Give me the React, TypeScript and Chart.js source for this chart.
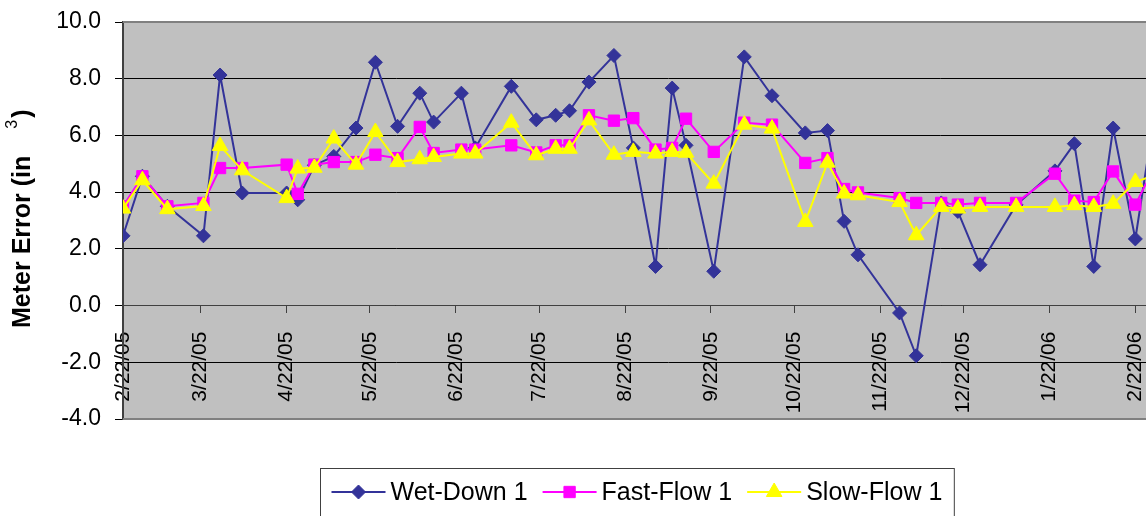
import React, { useEffect, useRef } from 'react';
import { Chart, registerables } from 'chart.js';

Chart.register(...registerables);

// ---- data ----
const seriesNames = ['Wet-Down 1', 'Fast-Flow 1', 'Slow-Flow 1'];

const dates = [
  '2/22/05', '3/1/05', '3/10/05', '3/23/05', '3/29/05', '4/6/05', '4/22/05', '4/26/05',
  '5/2/05', '5/9/05', '5/17/05', '5/24/05', '6/1/05', '6/9/05', '6/14/05', '6/24/05',
  '6/29/05', '7/12/05', '7/21/05', '7/28/05', '8/2/05', '8/9/05', '8/18/05', '8/25/05',
  '9/2/05', '9/8/05', '9/13/05', '9/23/05', '10/4/05', '10/14/05', '10/26/05', '11/3/05',
  '11/9/05', '11/14/05', '11/29/05', '12/5/05', '12/14/05', '12/20/05', '12/28/05', '1/10/06',
  '1/24/06', '1/31/06', '2/7/06', '2/14/06', '2/22/06', '3/1/06',
];

const wetDown = [
  2.46, 4.56, 3.5, 2.46, 8.13, 3.97, 3.97, 3.73,
  4.95, 5.26, 6.26, 8.58, 6.32, 7.49, 6.47, 7.49,
  5.56, 7.73, 6.55, 6.71, 6.87, 7.88, 8.82, 5.56,
  1.38, 7.67, 5.65, 1.21, 8.77, 7.4, 6.09, 6.17,
  2.97, 1.79, -0.26, -1.77, 3.62, 3.32, 1.44, 3.55,
  4.75, 5.71, 1.38, 6.26, 2.35, 6.8,
];

const fastFlow = [
  3.5, 4.56, 3.5, 3.62, 4.85, 4.85, 4.97, 3.94,
  4.97, 5.06, 5.06, 5.32, 5.2, 6.3, 5.38, 5.5,
  5.5, 5.65, 5.4, 5.65, 5.65, 6.71, 6.52, 6.61,
  5.5, 5.56, 6.59, 5.42, 6.45, 6.38, 5.03, 5.2,
  4.11, 3.99, 3.79, 3.62, 3.62, 3.56, 3.62, 3.62,
  4.65, 3.7, 3.65, 4.73, 3.56, 4.9,
];

const slowFlow = [
  3.42, 4.42, 3.4, 3.51, 5.63, 4.77, 3.79, 4.83,
  4.86, 5.89, 4.97, 6.12, 5.06, 5.16, 5.24, 5.36,
  5.36, 6.45, 5.3, 5.53, 5.53, 6.53, 5.32, 5.42,
  5.36, 5.42, 5.39, 4.3, 6.38, 6.24, 2.95, 5.04,
  3.95, 3.89, 3.65, 2.48, 3.48, 3.42, 3.48, 3.48,
  3.48, 3.54, 3.48, 3.59, 4.36, 4.6,
];

const tickLabels = [
  '2/22/05', '3/22/05', '4/22/05', '5/22/05', '6/22/05', '7/22/05', '8/22/05',
  '9/22/05', '10/22/05', '11/22/05', '12/22/05', '1/22/06', '2/22/06', '3/22/06',
];

const yMin = -4;
const yMax = 10;
const yStep = 2;

// ---- helpers ----
const FONT = '"Liberation Sans", Arial, Helvetica, sans-serif';
const COLORS = ['#333399', '#FF00FF', '#FFFF00'];
const STYLES = ['rectRot', 'rect', 'triangle'];
const RADII = [7, 8, 9];

function toUTC(s: string) {
  const [m, d, y] = s.split('/').map(Number);
  return Date.UTC(2000 + y, m - 1, d);
}
const origin = toUTC(tickLabels[0]);
function dayOf(s: string) {
  return Math.round((toUTC(s) - origin) / 86400000);
}
const tickDays = tickLabels.map(dayOf);

function drawMarker(ctx: CanvasRenderingContext2D, style: string, x: number, y: number, r: number, color: string) {
  ctx.beginPath();
  if (style === 'rectRot') {
    ctx.moveTo(x - r, y);
    ctx.lineTo(x, y - r);
    ctx.lineTo(x + r, y);
    ctx.lineTo(x, y + r);
  } else if (style === 'rect') {
    const s = r * Math.SQRT1_2;
    ctx.rect(x - s, y - s, 2 * s, 2 * s);
  } else {
    ctx.moveTo(x, y - r);
    ctx.lineTo(x + r * Math.sin(Math.PI / 3), y + r / 2);
    ctx.lineTo(x - r * Math.sin(Math.PI / 3), y + r / 2);
  }
  ctx.closePath();
  ctx.fillStyle = color;
  ctx.fill();
  ctx.strokeStyle = color;
  ctx.lineWidth = 1;
  ctx.stroke();
}

const plotBgPlugin = {
  id: 'plotBg',
  beforeDraw(chart: any) {
    const { ctx, chartArea: a } = chart;
    ctx.save();
    ctx.fillStyle = '#C0C0C0';
    ctx.fillRect(a.left, a.top, a.right - a.left, a.bottom - a.top);
    ctx.restore();
  },
  beforeDatasetsDraw(chart: any) {
    const { ctx, chartArea: a } = chart;
    ctx.save();
    ctx.strokeStyle = '#808080';
    ctx.lineWidth = 2;
    ctx.beginPath();
    ctx.moveTo(a.left, a.top);
    ctx.lineTo(a.right, a.top);
    ctx.lineTo(a.right, a.bottom);
    ctx.lineTo(a.left, a.bottom);
    ctx.stroke();
    ctx.restore();
  },
};

const yTitlePlugin = {
  id: 'yTitle',
  afterDraw(chart: any) {
    const { ctx } = chart;
    ctx.save();
    ctx.translate(23, 328);
    ctx.rotate(-Math.PI / 2);
    ctx.fillStyle = '#000';
    ctx.textBaseline = 'middle';
    ctx.textAlign = 'left';
    ctx.font = `bold 25px ${FONT}`;
    const main = 'Meter Error (in';
    ctx.fillText(main, 0, 0);
    let x = ctx.measureText(main).width + 27;
    ctx.font = `16px ${FONT}`;
    ctx.fillText('3', x, -10);
    x += ctx.measureText('3').width + 2;
    ctx.font = `bold 25px ${FONT}`;
    ctx.fillText(')', x, 0);
    ctx.restore();
  },
};

const legendPlugin = {
  id: 'boxLegend',
  afterDraw(chart: any) {
    const { ctx } = chart;
    ctx.save();
    ctx.font = `25px ${FONT}`;
    const lineW = 54;
    const textGap = 5;
    const itemGap = 15;
    const padL = 11;
    const padR = 12;
    const widths = seriesNames.map((n) => ctx.measureText(n).width);
    const total = padL + padR + widths.reduce((s, w) => s + lineW + textGap + w, 0) + itemGap * (seriesNames.length - 1);
    const left = Math.round(637 - total / 2) + 0.5;
    const top = 468.5;
    const cy = 492;
    ctx.strokeStyle = '#404040';
    ctx.lineWidth = 1;
    ctx.strokeRect(left, top, total, 60);
    let x = left + padL;
    seriesNames.forEach((name, i) => {
      ctx.strokeStyle = COLORS[i];
      ctx.lineWidth = 2;
      ctx.beginPath();
      ctx.moveTo(x, cy);
      ctx.lineTo(x + lineW, cy);
      ctx.stroke();
      drawMarker(ctx, STYLES[i], x + lineW / 2, cy, RADII[i], COLORS[i]);
      ctx.fillStyle = '#000';
      ctx.textAlign = 'left';
      ctx.textBaseline = 'middle';
      ctx.fillText(name, x + lineW + textGap, cy + 1);
      x += lineW + textGap + widths[i] + itemGap;
    });
    ctx.restore();
  },
};

export default function App() {
  const canvasRef = useRef<HTMLCanvasElement | null>(null);

  useEffect(() => {
    const canvas = canvasRef.current;
    if (!canvas) return;
    const seriesData = [wetDown, fastFlow, slowFlow];
    const chart = new Chart(canvas, {
      type: 'line',
      data: {
        datasets: seriesNames.map((name, i) => ({
          label: name,
          data: dates.map((d, j) => ({ x: dayOf(d), y: seriesData[i][j] })),
          borderColor: COLORS[i],
          backgroundColor: COLORS[i],
          borderWidth: 2,
          pointStyle: STYLES[i] as any,
          pointRadius: RADII[i],
          pointBorderWidth: 1,
          pointBackgroundColor: COLORS[i],
          pointBorderColor: COLORS[i],
          tension: 0,
          fill: false,
          order: 3 - i,
        })),
      },
      options: {
        responsive: false,
        animation: false,
        devicePixelRatio: 1,
        events: [],
        layout: { padding: { left: 0, top: 22, right: 61, bottom: 97 } },
        plugins: {
          legend: { display: false },
          tooltip: { enabled: false },
          title: { display: false },
        },
        scales: {
          x: {
            type: 'linear',
            min: tickDays[0],
            max: tickDays[tickDays.length - 1],
            position: { y: 0 } as any,
            afterBuildTicks: (scale: any) => {
              scale.ticks = tickDays.map((v) => ({ value: v }));
            },
            ticks: {
              autoSkip: false,
              minRotation: 90,
              maxRotation: 90,
              padding: 19,
              color: '#000',
              font: { family: FONT, size: 21 },
              callback: (value: any) => {
                const idx = tickDays.indexOf(Number(value));
                return idx >= 0 ? tickLabels[idx] : '';
              },
            },
            grid: {
              drawOnChartArea: false,
              drawTicks: true,
              tickLength: 7,
              tickColor: '#404040',
              tickWidth: 1,
            },
            border: { display: true, color: '#404040', width: 1 },
          },
          y: {
            type: 'linear',
            min: yMin,
            max: yMax,
            afterFit: (scale: any) => {
              scale.width = 123;
              scale.paddingTop = 0;
              scale.paddingBottom = 0;
            },
            ticks: {
              stepSize: yStep,
              padding: 14,
              color: '#000',
              font: { family: FONT, size: 23 },
              callback: (value: any) => Number(value).toFixed(1),
            },
            grid: {
              color: (c: any) =>
                c.tick && (c.tick.value === yMax || c.tick.value === yMin) ? 'rgba(0,0,0,0)' : '#000',
              lineWidth: 1,
              tickLength: 8,
              tickColor: '#000',
            },
            border: { display: true, color: '#404040', width: 2 },
          },
        },
      },
      plugins: [plotBgPlugin, yTitlePlugin, legendPlugin],
    });
    return () => chart.destroy();
  }, []);

  return (
    <div
      style={{
        position: 'absolute',
        left: 0,
        top: 0,
        width: 1146,
        height: 516,
        overflow: 'hidden',
        background: '#fff',
      }}
    >
      <canvas ref={canvasRef} width={1274} height={516} style={{ display: 'block' }} />
    </div>
  );
}
